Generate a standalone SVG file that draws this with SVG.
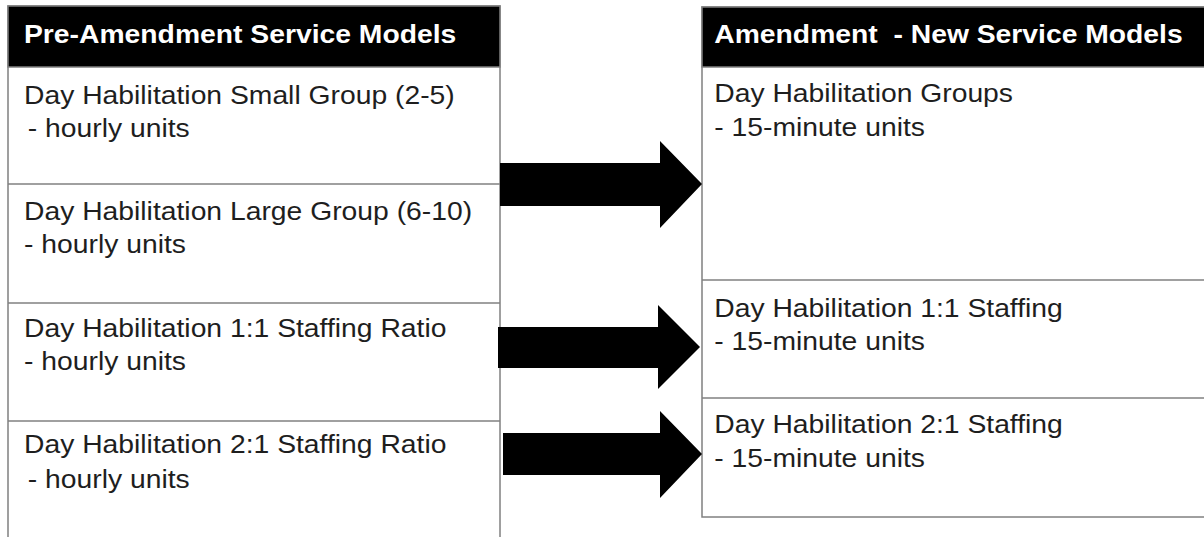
<svg xmlns="http://www.w3.org/2000/svg" width="1204" height="537" viewBox="0 0 1204 537">
<style>
.box{fill:#fff;stroke:#808080;stroke-width:1.5}
.hdr{fill:#000;stroke:#808080;stroke-width:1.5}
.div{stroke:#808080;stroke-width:1.5}
.t{font-family:"Liberation Sans",Arial,sans-serif;font-size:25px;fill:#1e1e1e}
.h{font-family:"Liberation Sans",Arial,sans-serif;font-size:25px;font-weight:bold;fill:#fff}
.arrow{fill:#000}
</style>
<rect width="1204" height="537" fill="#fff"/>
<g id="pre-amendment">
  <rect class="box" x="8" y="6" width="492" height="545"/>
  <rect class="hdr" x="8" y="6" width="492" height="61"/>
  <line class="div" x1="8" y1="184" x2="500" y2="184"/>
  <line class="div" x1="8" y1="303" x2="500" y2="303"/>
  <line class="div" x1="8" y1="421" x2="500" y2="421"/>
  <g transform="scale(1.132 1)">
    <text class="h" x="21.2" y="43">Pre-Amendment Service Models</text>
  </g>
</g>
<g id="pre-small-group">
  <g transform="scale(1.132 1)">
    <text class="t" x="21.2" y="104">Day Habilitation Small Group (2-5)</text>
    <text class="t" x="24.6" y="137">- hourly units</text>
  </g>
</g>
<g id="pre-large-group">
  <g transform="scale(1.132 1)">
    <text class="t" x="21.2" y="220">Day Habilitation Large Group (6-10)</text>
    <text class="t" x="21.2" y="253">- hourly units</text>
  </g>
</g>
<g id="pre-1-1">
  <g transform="scale(1.132 1)">
    <text class="t" x="21.2" y="337">Day Habilitation 1:1 Staffing Ratio</text>
    <text class="t" x="21.2" y="370">- hourly units</text>
  </g>
</g>
<g id="pre-2-1">
  <g transform="scale(1.132 1)">
    <text class="t" x="21.2" y="453">Day Habilitation 2:1 Staffing Ratio</text>
    <text class="t" x="24.6" y="488">- hourly units</text>
  </g>
</g>
<g id="amendment">
  <rect class="box" x="702" y="7" width="510" height="510"/>
  <rect class="hdr" x="702" y="7" width="510" height="60"/>
  <line class="div" x1="702" y1="280" x2="1204" y2="280"/>
  <line class="div" x1="702" y1="398" x2="1204" y2="398"/>
  <g transform="scale(1.132 1)">
    <text class="h" x="631" y="43" xml:space="preserve">Amendment  - New Service Models</text>
  </g>
</g>
<g id="new-groups">
  <g transform="scale(1.132 1)">
    <text class="t" x="631" y="102">Day Habilitation Groups</text>
    <text class="t" x="631" y="136">- 15-minute units</text>
  </g>
</g>
<g id="new-1-1">
  <g transform="scale(1.132 1)">
    <text class="t" x="631" y="317">Day Habilitation 1:1 Staffing</text>
    <text class="t" x="631" y="350">- 15-minute units</text>
  </g>
</g>
<g id="new-2-1">
  <g transform="scale(1.132 1)">
    <text class="t" x="631" y="433">Day Habilitation 2:1 Staffing</text>
    <text class="t" x="631" y="467">- 15-minute units</text>
  </g>
</g>
<g id="connectors">
  <polygon class="arrow" points="500,163 660,163 660,141 702,184 660,228 660,206 500,206"/>
  <polygon class="arrow" points="498,327 658,327 658,305 700,347 658,389 658,368 498,368"/>
  <polygon class="arrow" points="503,433 660,433 660,411 702,454 660,498 660,475 503,475"/>
</g>
</svg>
